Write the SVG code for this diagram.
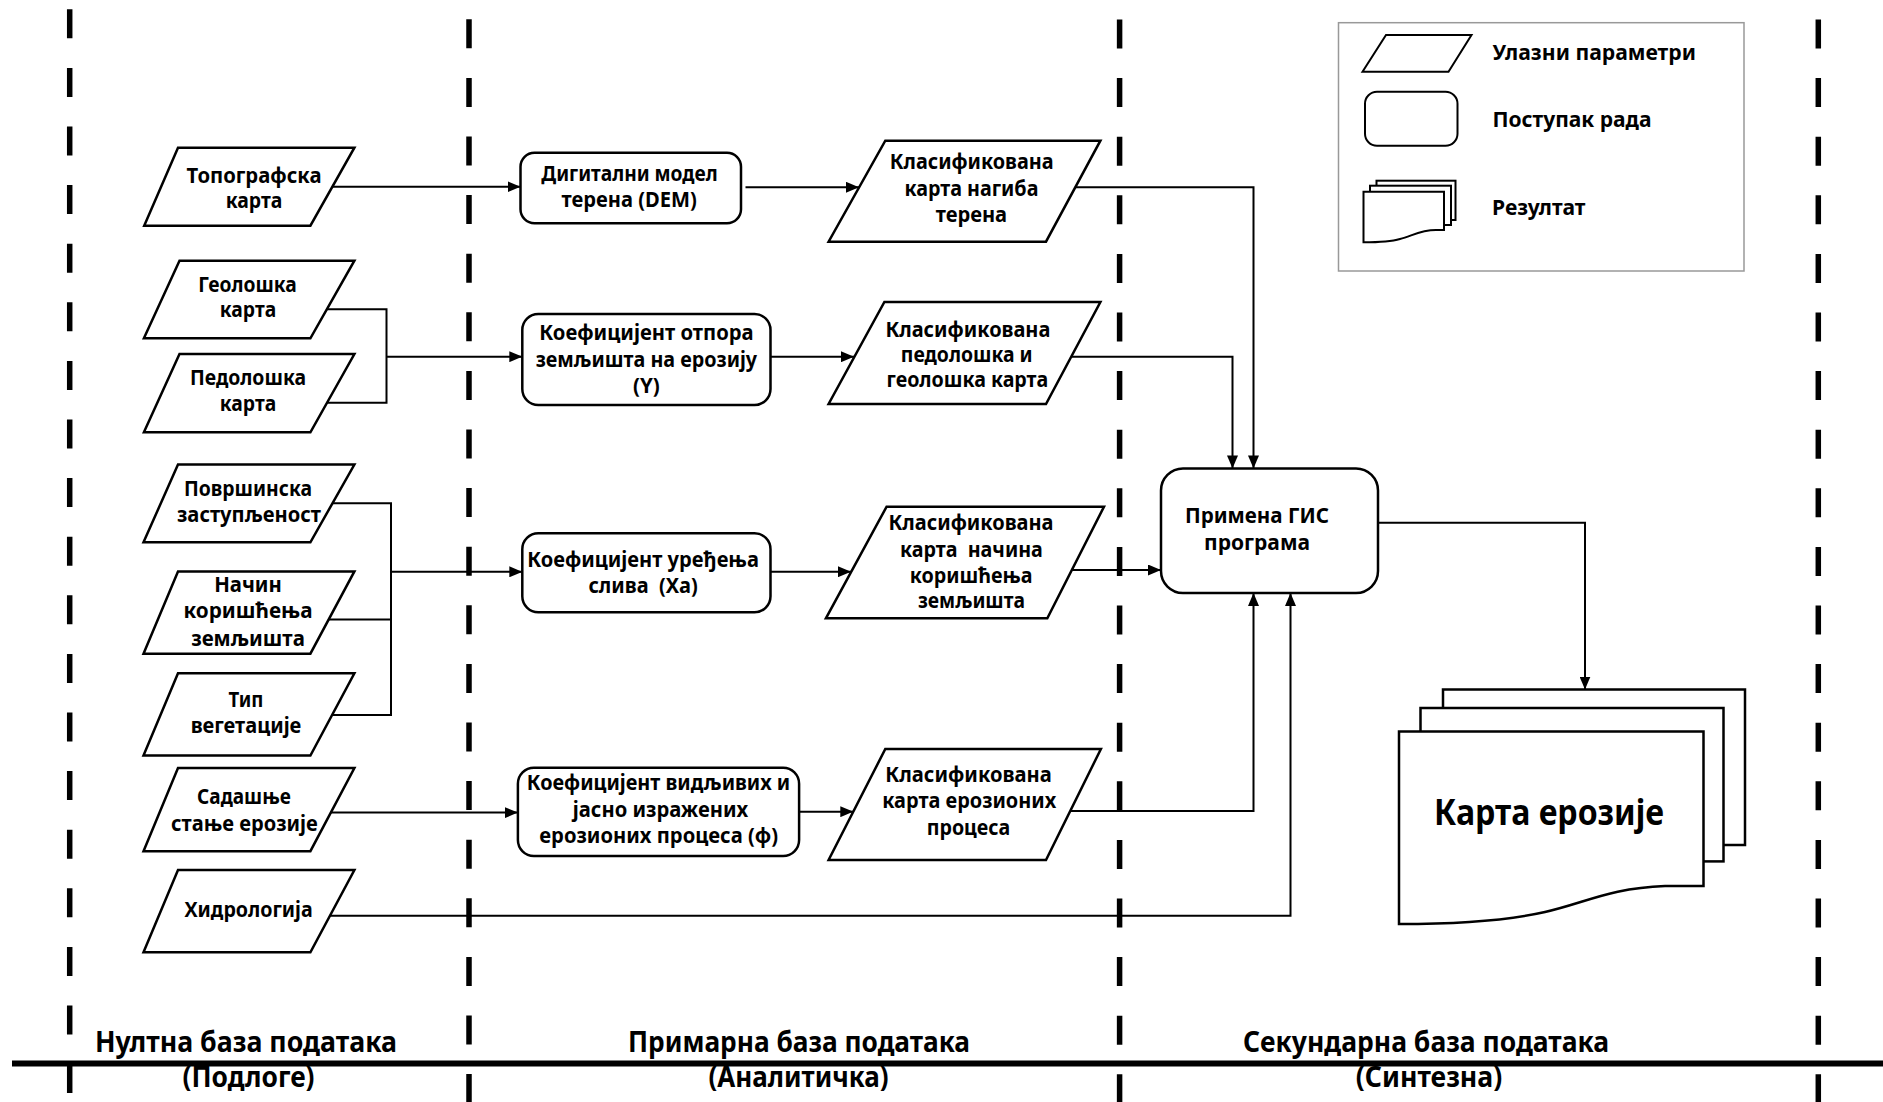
<svg xmlns="http://www.w3.org/2000/svg" width="1883" height="1102" viewBox="0 0 1883 1102">
<style>
.bg{fill:#fff}
.shape{fill:#fff;stroke:#000;stroke-width:2.5}
.t{font-family:"Noto Sans","Open Sans",sans-serif;font-weight:700;font-size:21px;text-anchor:middle;fill:#000;white-space:pre}
.tl{text-anchor:start}
.conn{fill:none;stroke:#000;stroke-width:2}
.dash{stroke:#000;stroke-width:5.5;stroke-dasharray:29 29.6}
.lbl{font-size:28px}
</style>
<defs>
<marker id="arr" markerUnits="userSpaceOnUse" markerWidth="13" markerHeight="11" refX="13" refY="5.5" orient="auto">
<path d="M0,0 L13,5.5 L0,11 Z" fill="#000"/>
</marker>
</defs>
<rect class="bg" x="0" y="0" width="1883" height="1102"/>

<g id="lanes">
<line class="dash" x1="69.7" y1="9.3" x2="69.7" y2="1102"/>
<line class="dash" x1="469" y1="19.3" x2="469" y2="1102"/>
<line class="dash" x1="1119.6" y1="19.5" x2="1119.6" y2="1102"/>
<line class="dash" x1="1818.3" y1="19.5" x2="1818.3" y2="1102"/>
<line x1="12" y1="1063.5" x2="1883" y2="1063.5" stroke="#000" stroke-width="6"/>
</g>

<g id="connectors">
<path class="conn" d="M332.4,186.7 H520.5" marker-end="url(#arr)"/>
<path class="conn" d="M745.5,187.3 H859" marker-end="url(#arr)"/>
<path class="conn" d="M326.8,309.3 H386.5 V402.7 H327"/>
<path class="conn" d="M386.5,356.7 H522.3" marker-end="url(#arr)"/>
<path class="conn" d="M770.5,356.7 H854" marker-end="url(#arr)"/>
<path class="conn" d="M332.5,503.2 H391 V714.9 H332.2"/>
<path class="conn" d="M328.6,619.6 H391"/>
<path class="conn" d="M391,571.8 H522.3" marker-end="url(#arr)"/>
<path class="conn" d="M770.5,571.7 H851" marker-end="url(#arr)"/>
<path class="conn" d="M330.8,812.6 H517.9" marker-end="url(#arr)"/>
<path class="conn" d="M799.1,811.7 H853.3" marker-end="url(#arr)"/>
<path class="conn" d="M1075.3,187.3 H1253.5 V468.4" marker-end="url(#arr)"/>
<path class="conn" d="M1071.2,356.7 H1232.5 V468.4" marker-end="url(#arr)"/>
<path class="conn" d="M1071.8,570 H1161" marker-end="url(#arr)"/>
<path class="conn" d="M1070.2,811 H1253.5 V593" marker-end="url(#arr)"/>
<path class="conn" d="M330,915.7 H1290.5 V593" marker-end="url(#arr)"/>
<path class="conn" d="M1378,522.8 H1585 V689.5" marker-end="url(#arr)"/>
</g>

<g id="n-topo">
<polygon class="shape" points="178,147.7 354.4,147.7 310.4,225.7 144.2,225.7"/>
<text class="t" x="254" y="182.5" textLength="135" lengthAdjust="spacingAndGlyphs">Топографска</text>
<text class="t" x="254" y="208.3" textLength="56.6" lengthAdjust="spacingAndGlyphs">карта</text>
</g>
<g id="n-geo">
<polygon class="shape" points="179.5,260.7 354.4,260.7 310.4,338.3 143.9,338.3"/>
<text class="t" x="247.5" y="291.7" textLength="98.4" lengthAdjust="spacingAndGlyphs">Геолошка</text>
<text class="t" x="248" y="316.7" textLength="56.3" lengthAdjust="spacingAndGlyphs">карта</text>
</g>
<g id="n-pedo">
<polygon class="shape" points="179.5,354 354.4,354 310.4,432.3 143.9,432.3"/>
<text class="t" x="248" y="385" textLength="116" lengthAdjust="spacingAndGlyphs">Педолошка</text>
<text class="t" x="248" y="410.5" textLength="56.3" lengthAdjust="spacingAndGlyphs">карта</text>
</g>
<g id="n-povrs">
<polygon class="shape" points="178,464.6 354.4,464.6 310.4,542.3 143.5,542.3"/>
<text class="t" x="248" y="495.7" textLength="128" lengthAdjust="spacingAndGlyphs">Површинска</text>
<text class="t" x="249" y="522" textLength="144" lengthAdjust="spacingAndGlyphs">заступљеност</text>
</g>
<g id="n-nacin">
<polygon class="shape" points="178,571.4 354.4,571.4 310.4,653.7 143.5,653.7"/>
<text class="t" x="248" y="592.2" textLength="67.7" lengthAdjust="spacingAndGlyphs">Начин</text>
<text class="t" x="248" y="618.4" textLength="129" lengthAdjust="spacingAndGlyphs">коришћења</text>
<text class="t" x="248" y="646.3" textLength="113.7" lengthAdjust="spacingAndGlyphs">земљишта</text>
</g>
<g id="n-tip">
<polygon class="shape" points="178,673.3 354.4,673.3 310.4,755.6 143.5,755.6"/>
<text class="t" x="246" y="706.5" textLength="34.8" lengthAdjust="spacingAndGlyphs">Тип</text>
<text class="t" x="246" y="732.7" textLength="110.6" lengthAdjust="spacingAndGlyphs">вегетације</text>
</g>
<g id="n-sadas">
<polygon class="shape" points="178,768 354.4,768 310.4,851.2 143.5,851.2"/>
<text class="t" x="244" y="804.3" textLength="93.8" lengthAdjust="spacingAndGlyphs">Садашње</text>
<text class="t" x="244.4" y="830.5" textLength="146.6" lengthAdjust="spacingAndGlyphs">стање ерозије</text>
</g>
<g id="n-hidro">
<polygon class="shape" points="178,870 354.4,870 310.4,952.3 143.5,952.3"/>
<text class="t" x="248.6" y="917" textLength="128.2" lengthAdjust="spacingAndGlyphs">Хидрологија</text>
</g>

<g id="n-dem">
<rect class="shape" x="520.5" y="152.7" width="220.5" height="70.6" rx="14"/>
<text class="t" x="629.5" y="181" textLength="176.3" lengthAdjust="spacingAndGlyphs">Дигитални модел</text>
<text class="t" x="629.2" y="207.3" textLength="135.3" lengthAdjust="spacingAndGlyphs">терена (DEM)</text>
</g>
<g id="n-y">
<rect class="shape" x="522.3" y="314" width="248.2" height="91" rx="16"/>
<text class="t" x="646.4" y="340" textLength="214.3" lengthAdjust="spacingAndGlyphs">Коефицијент отпора</text>
<text class="t" x="646.4" y="366.7" textLength="221.4" lengthAdjust="spacingAndGlyphs">земљишта на ерозију</text>
<text class="t" x="646.4" y="393.3" textLength="26.8" lengthAdjust="spacingAndGlyphs">(Y)</text>
</g>
<g id="n-xa">
<rect class="shape" x="522.3" y="533.3" width="248.2" height="79" rx="16"/>
<text class="t" x="643.1" y="566.7" textLength="231.7" lengthAdjust="spacingAndGlyphs">Коефицијент уређења</text>
<text class="t" x="643.1" y="592.7" textLength="109.4" lengthAdjust="spacingAndGlyphs">слива  (Xa)</text>
</g>
<g id="n-phi">
<rect class="shape" x="517.9" y="767.7" width="281.2" height="88.3" rx="16"/>
<text class="t" x="658.5" y="790" textLength="263.4" lengthAdjust="spacingAndGlyphs">Коефицијент видљивих и</text>
<text class="t" x="660.5" y="816.7" textLength="175.4" lengthAdjust="spacingAndGlyphs">јасно изражених</text>
<text class="t" x="658.7" y="842.7" textLength="238.8" lengthAdjust="spacingAndGlyphs">ерозионих процеса (φ)</text>
</g>

<g id="n-k1">
<polygon class="shape" points="885.3,140.7 1100.4,140.7 1046,241.7 828.6,241.7"/>
<text class="t" x="971.7" y="169" textLength="163.8" lengthAdjust="spacingAndGlyphs">Класификована</text>
<text class="t" x="971.4" y="195.7" textLength="134" lengthAdjust="spacingAndGlyphs">карта нагиба</text>
<text class="t" x="971.4" y="221.7" textLength="71.4" lengthAdjust="spacingAndGlyphs">терена</text>
</g>
<g id="n-k2">
<polygon class="shape" points="884.4,302 1100.4,302 1046,404 828.6,404"/>
<text class="t" x="967.9" y="336.7" textLength="165" lengthAdjust="spacingAndGlyphs">Класификована</text>
<text class="t" x="966.7" y="361.7" textLength="131.7" lengthAdjust="spacingAndGlyphs">педолошка и</text>
<text class="t" x="967.4" y="387.3" textLength="161.6" lengthAdjust="spacingAndGlyphs">геолошка карта</text>
</g>
<g id="n-k3">
<polygon class="shape" points="886.6,506.7 1104,506.7 1047.3,618.3 825.9,618.3"/>
<text class="t" x="971" y="530" textLength="165" lengthAdjust="spacingAndGlyphs">Класификована</text>
<text class="t" x="971.4" y="556.7" textLength="142.9" lengthAdjust="spacingAndGlyphs">карта  начина</text>
<text class="t" x="971.2" y="583.3" textLength="122.8" lengthAdjust="spacingAndGlyphs">коришћења</text>
<text class="t" x="971.4" y="608.3" textLength="107" lengthAdjust="spacingAndGlyphs">земљишта</text>
</g>
<g id="n-k4">
<polygon class="shape" points="885.3,749 1100.9,749 1046,860 828.6,860"/>
<text class="t" x="968.5" y="781.7" textLength="166.5" lengthAdjust="spacingAndGlyphs">Класификована</text>
<text class="t" x="969.2" y="808.3" textLength="174" lengthAdjust="spacingAndGlyphs">карта ерозионих</text>
<text class="t" x="968.5" y="835" textLength="83.5" lengthAdjust="spacingAndGlyphs">процеса</text>
</g>

<g id="n-gis">
<rect class="shape" x="1161" y="468.4" width="217" height="124.6" rx="22"/>
<text class="t" x="1257" y="522.8" textLength="144" lengthAdjust="spacingAndGlyphs">Примена ГИС</text>
<text class="t" x="1257" y="549.5" textLength="106" lengthAdjust="spacingAndGlyphs">програма</text>
</g>

<g id="n-result">
<rect class="shape" x="1443" y="689.5" width="302" height="155.5"/>
<rect class="shape" x="1420.5" y="708" width="303" height="153.4"/>
<path class="shape" d="M1399,731.6 H1703.5 V886 H1665 C1610,888 1585,903 1545,912 C1505,921 1460,924 1399,924 Z"/>
<text class="t" x="1549" y="824.6" style="font-size:35px" textLength="230" lengthAdjust="spacingAndGlyphs">Карта ерозије</text>
</g>

<g id="legend">
<rect x="1338.5" y="22.7" width="405.5" height="248.3" fill="#fff" stroke="#999" stroke-width="1.5"/>
<polygon class="shape" style="stroke-width:2" points="1362.5,71.7 1386,35 1471.5,35 1448.5,71.7"/>
<text class="t tl" x="1492.5" y="60" style="font-size:22px" textLength="203.5" lengthAdjust="spacingAndGlyphs">Улазни параметри</text>
<rect class="shape" style="stroke-width:2" x="1365" y="91.7" width="92.5" height="54" rx="12"/>
<text class="t tl" x="1492.5" y="126.7" style="font-size:22px" textLength="159" lengthAdjust="spacingAndGlyphs">Поступак рада</text>
<rect class="shape" style="stroke-width:2" x="1376.5" y="180.7" width="79" height="39.3"/>
<rect class="shape" style="stroke-width:2" x="1370" y="185.7" width="81" height="39.3"/>
<path class="shape" style="stroke-width:2" d="M1363.5,191.7 H1444 V230 H1436 C1420,230 1412,236 1400,239 C1390,242 1380,242.3 1363.5,242.3 Z"/>
<text class="t tl" x="1492" y="215" style="font-size:22px" textLength="93.5" lengthAdjust="spacingAndGlyphs">Резултат</text>
</g>

<g id="lane-labels">
<text class="t lbl" x="246" y="1052" textLength="302" lengthAdjust="spacingAndGlyphs">Нултна база података</text>
<text class="t lbl" x="248.5" y="1087" textLength="132" lengthAdjust="spacingAndGlyphs">(Подлоге)</text>
<text class="t lbl" x="799" y="1052" textLength="342" lengthAdjust="spacingAndGlyphs">Примарна база података</text>
<text class="t lbl" x="798.5" y="1087" textLength="180" lengthAdjust="spacingAndGlyphs">(Аналитичка)</text>
<text class="t lbl" x="1426" y="1052" textLength="366" lengthAdjust="spacingAndGlyphs">Секундарна база података</text>
<text class="t lbl" x="1429" y="1087" textLength="146.5" lengthAdjust="spacingAndGlyphs">(Синтезна)</text>
</g>
</svg>
